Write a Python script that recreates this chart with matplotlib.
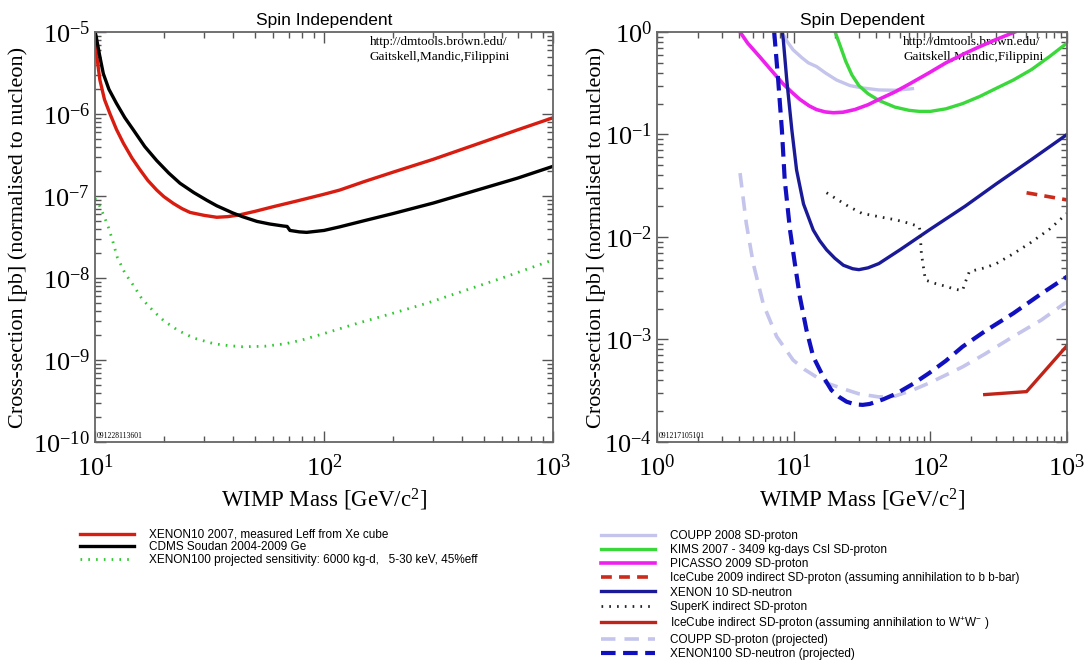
import matplotlib
matplotlib.use('Agg')
import matplotlib.pyplot as plt

plt.rcParams['font.family'] = ['Liberation Serif', 'DejaVu Serif']
plt.rcParams['mathtext.default'] = 'regular'
plt.rcParams['axes.unicode_minus'] = False

# ---- Spin independent limits (mass in GeV, cross-section in pb) ----
xe10_m = [10, 10.1, 10.5, 11.0, 11.6, 12.4, 13.3, 14.5, 15.7, 17, 18.6, 20, 22, 24, 26, 30, 34, 38, 43,
          50, 60, 75, 100, 117, 150, 200, 300, 500, 700, 1000]
xe10_s = [7e-6, 6e-6, 2.6e-6, 1.5e-6, 1.02e-6, 6.5e-7, 4.4e-7, 2.9e-7, 2.1e-7, 1.55e-7, 1.18e-7, 9.8e-8, 8.1e-8,
          7.0e-8, 6.3e-8, 5.8e-8, 5.5e-8, 5.6e-8, 5.9e-8, 6.5e-8, 7.4e-8, 8.6e-8, 1.05e-7, 1.18e-7, 1.5e-7,
          1.95e-7, 2.8e-7, 4.6e-7, 6.4e-7, 9e-7]

cdms_m = [10, 10.1, 10.5, 10.87, 11.5, 12.4, 13.5, 14.7, 16.5, 18.6, 21, 23.5, 27, 30.7, 34, 37.6, 40, 44,
          50.9, 58, 66.5, 69, 71, 78, 84, 100, 117, 150, 200, 300, 500, 700, 1000]
cdms_s = [1e-5, 9e-6, 5e-6, 3.1e-6, 2e-6, 1.35e-6, 9e-7, 6.4e-7, 4e-7, 2.7e-7, 1.9e-7, 1.43e-7, 1.1e-7, 8.9e-8,
          7.6e-8, 6.7e-8, 6.2e-8, 5.6e-8, 4.9e-8, 4.55e-8, 4.3e-8, 4.25e-8, 3.8e-8, 3.65e-8, 3.6e-8, 3.8e-8,
          4.2e-8, 5.0e-8, 6.1e-8, 8.2e-8, 1.25e-7, 1.65e-7, 2.3e-7]

xe100_m = [10, 10.5, 11, 11.5, 12, 12.5, 13.5, 14.9, 16, 17.9, 20, 23, 27, 33, 38, 44, 55, 68, 80, 100,
           140, 199, 280, 410, 600, 1000]
xe100_s = [9.3e-8, 7.5e-8, 5.5e-8, 4e-8, 2.7e-8, 1.8e-8, 1.15e-8, 7.7e-9, 5.6e-9, 4.0e-9, 3.0e-9, 2.3e-9,
           1.85e-9, 1.58e-9, 1.5e-9, 1.45e-9, 1.47e-9, 1.58e-9, 1.75e-9, 2.1e-9, 2.8e-9, 3.7e-9, 4.9e-9, 7e-9,
           1.0e-8, 1.66e-8]

# ---- Spin dependent limits ----
coupp_m = [8.2, 9.0, 9.9, 11.5, 12.8, 14.7, 17, 20.6, 25.8, 31.6, 42, 55.8, 74]
coupp_s = [1.0, 0.8, 0.67, 0.56, 0.5, 0.46, 0.4, 0.34, 0.30, 0.285, 0.272, 0.27, 0.28]

kims_m = [20.1, 22, 24, 26.7, 30, 35, 42, 55, 70, 83, 100, 130, 172, 230, 300, 405, 550, 750, 1000]
kims_s = [1.0, 0.72, 0.52, 0.38, 0.3, 0.25, 0.215, 0.185, 0.172, 0.168, 0.168, 0.178, 0.2, 0.235, 0.28,
          0.34, 0.43, 0.58, 0.78]

picasso_m = [4.05, 4.6, 5.66, 7, 8.4, 9.8, 11.1, 13, 14.7, 17, 19.5, 23, 28, 35, 42, 55, 70, 98, 130, 180,
             230, 300, 415]
picasso_s = [1.0, 0.78, 0.57, 0.41, 0.31, 0.255, 0.22, 0.19, 0.175, 0.166, 0.163, 0.165, 0.175, 0.195, 0.22,
             0.26, 0.31, 0.4, 0.5, 0.62, 0.72, 0.84, 1.0]

icecube09_m = [506, 1000]
icecube09_s = [0.027, 0.023]

xe10sd_m = [8.25, 8.4, 8.9, 9.7, 10.5, 11.8, 13.9, 15.5, 17.4, 20, 23.1, 27, 30, 35, 42, 60, 98, 180, 304,
            550, 1000]
xe10sd_s = [1.0, 0.83, 0.34, 0.11, 0.045, 0.021, 0.0117, 0.0092, 0.0075, 0.0062, 0.0053, 0.0049, 0.0048,
            0.0050, 0.0055, 0.0075, 0.0117, 0.02, 0.033, 0.057, 0.1]

superk_m = [17.4, 25, 31.6, 45, 55.8, 70, 83, 84, 86, 92, 110, 130, 150, 172, 180, 193, 250, 304, 400, 535,
            750, 1000]
superk_s = [0.027, 0.02, 0.017, 0.0155, 0.0147, 0.0136, 0.0126, 0.0115, 0.0069, 0.0038, 0.0035, 0.0033,
            0.0031, 0.003, 0.0036, 0.0046, 0.005, 0.0055, 0.0068, 0.0087, 0.012, 0.017]

icecubeww_m = [250, 506, 1000]
icecubeww_s = [2.9e-4, 3.1e-4, 8.7e-4]

coupp_proj_m = [4.05, 4.5, 5.06, 6.0, 7.5, 9.9, 12, 14.7, 18, 23.1, 30, 42, 55, 74, 100, 172, 250, 405, 650,
                1000]
coupp_proj_s = [0.042, 0.0136, 0.0055, 0.0022, 0.00107, 6.3e-4, 5.1e-4, 4.3e-4, 3.7e-4, 3.3e-4, 2.95e-4,
                2.75e-4, 2.8e-4, 3.2e-4, 3.8e-4, 5.4e-4, 7.2e-4, 1.07e-3, 1.55e-3, 2.34e-3]

xe100sd_m = [7.2, 7.7, 8.2, 8.6, 9.4, 10.2, 11.1, 12.4, 13.9, 16.5, 18.9, 21.5, 24.4, 28, 32, 36, 45, 56,
             75, 98, 130, 172, 250, 405, 650, 1000]
xe100sd_s = [1.0, 0.34, 0.11, 0.036, 0.0117, 0.0055, 0.0026, 0.00124, 6.8e-4, 4.3e-4, 3.2e-4, 2.75e-4,
             2.47e-4, 2.33e-4, 2.3e-4, 2.35e-4, 2.6e-4, 2.95e-4, 3.7e-4, 4.7e-4, 6.2e-4, 8.5e-4, 1.2e-3,
             1.8e-3, 2.8e-3, 4.1e-3]

fig = plt.figure(figsize=(10.86, 6.72), dpi=100)
ax1 = fig.add_axes([0.0875, 0.3423, 0.4217, 0.6101])
ax2 = fig.add_axes([0.605, 0.3423, 0.3775, 0.6101])

lav = '#c4c4ec'

ax1.plot(xe10_m, xe10_s, color='#d81c10', lw=2.4, label='XENON10 2007, measured Leff from Xe cube')
ax1.plot(cdms_m, cdms_s, color='black', lw=2.4, label='CDMS Soudan 2004-2009 Ge')
ax1.plot(xe100_m, xe100_s, color='#30c830', lw=2.0, ls=(0, (0.6, 2.2)),
         label='XENON100 projected sensitivity: 6000 kg-d,   5-30 keV, 45%eff')
ax1.set_xlim(10, 1000)
ax1.set_ylim(1e-10, 1e-5)

ax2.plot(coupp_m, coupp_s, color=lav, lw=2.4, label='COUPP 2008 SD-proton')
ax2.plot(kims_m, kims_s, color='#3ad83a', lw=2.4, label='KIMS 2007 - 3409 kg-days CsI SD-proton')
ax2.plot(picasso_m, picasso_s, color='#ee20ee', lw=2.6, label='PICASSO 2009 SD-proton')
ax2.plot(icecube09_m, icecube09_s, color='#cc2a1a', lw=2.6, ls=(0, (3, 2)),
         label='IceCube 2009 indirect SD-proton (assuming annihilation to b b-bar)')
ax2.plot(xe10sd_m, xe10sd_s, color='#1a1a98', lw=2.4, label='XENON 10 SD-neutron')
ax2.plot(superk_m, superk_s, color='#222222', lw=2.0, ls=(0, (0.6, 2.2)), label='SuperK indirect SD-proton')
ax2.plot(icecubeww_m, icecubeww_s, color='#c02418', lw=2.4,
         label='IceCube indirect SD-proton (assuming annihilation to W$^{+}$W$^{-}$ )')
ax2.plot(coupp_proj_m, coupp_proj_s, color=lav, lw=2.6, ls=(0, (4, 2.5)), label='COUPP SD-proton (projected)')
ax2.plot(xe100sd_m, xe100sd_s, color='#1010c0', lw=3.0, ls=(0, (3.5, 1.8)), label='XENON100 SD-neutron (projected)')
ax2.set_xlim(1, 1000)
ax2.set_ylim(1e-4, 1)

for ax, title, tag in [(ax1, 'Spin Independent', '091228113601'), (ax2, 'Spin Dependent', '091217105101')]:
    ax.set_xscale('log')
    ax.set_yscale('log')
    ax.set_title(title, family='Liberation Sans', fontsize=12.5, pad=5)
    ax.set_xlabel('WIMP Mass [GeV/c$^2$]', fontsize=16.5, labelpad=4)
    ax.set_ylabel('Cross-section [pb] (normalised to nucleon)', fontsize=16, labelpad=4)
    ax.tick_params(which='both', direction='in', top=True, right=True, labelsize=19, colors='#555555',
                   labelcolor='black')
    ax.tick_params(which='major', length=8, width=1)
    ax.tick_params(axis='x', which='major', pad=9)
    ax.tick_params(which='minor', length=4, width=1)
    for s in ax.spines.values():
        s.set_color('#666666')
        s.set_linewidth(1.3)
    ax.text(0.6, 0.975, 'http://dmtools.brown.edu/', transform=ax.transAxes, fontsize=9.5,
            va='center', ha='left', clip_on=True, zorder=1)
    ax.text(0.6, 0.94, 'Gaitskell,Mandic,Filippini', transform=ax.transAxes, fontsize=9.5,
            va='center', ha='left', clip_on=True, zorder=1)
    ax.text(0.004, 0.006, tag, transform=ax.transAxes, fontsize=5.5, va='bottom', ha='left')

# the narrower tick labels on the right panel leave its y label closer to the axis
ax2.yaxis.set_label_coords(-0.125, 0.5)

fig.legend(*ax1.get_legend_handles_labels(), loc='upper left', bbox_to_anchor=(0.068, 0.222),
           frameon=False, prop={'family': 'Liberation Sans', 'size': 8.5}, handlelength=4.6,
           handletextpad=1.3, labelspacing=0.05, borderpad=0)
fig.legend(*ax2.get_legend_handles_labels(), loc='upper left', bbox_to_anchor=(0.548, 0.22),
           frameon=False, prop={'family': 'Liberation Sans', 'size': 8.5}, handlelength=4.6,
           handletextpad=1.2, labelspacing=0.18, borderpad=0)

fig.savefig('out.png', dpi=100)
